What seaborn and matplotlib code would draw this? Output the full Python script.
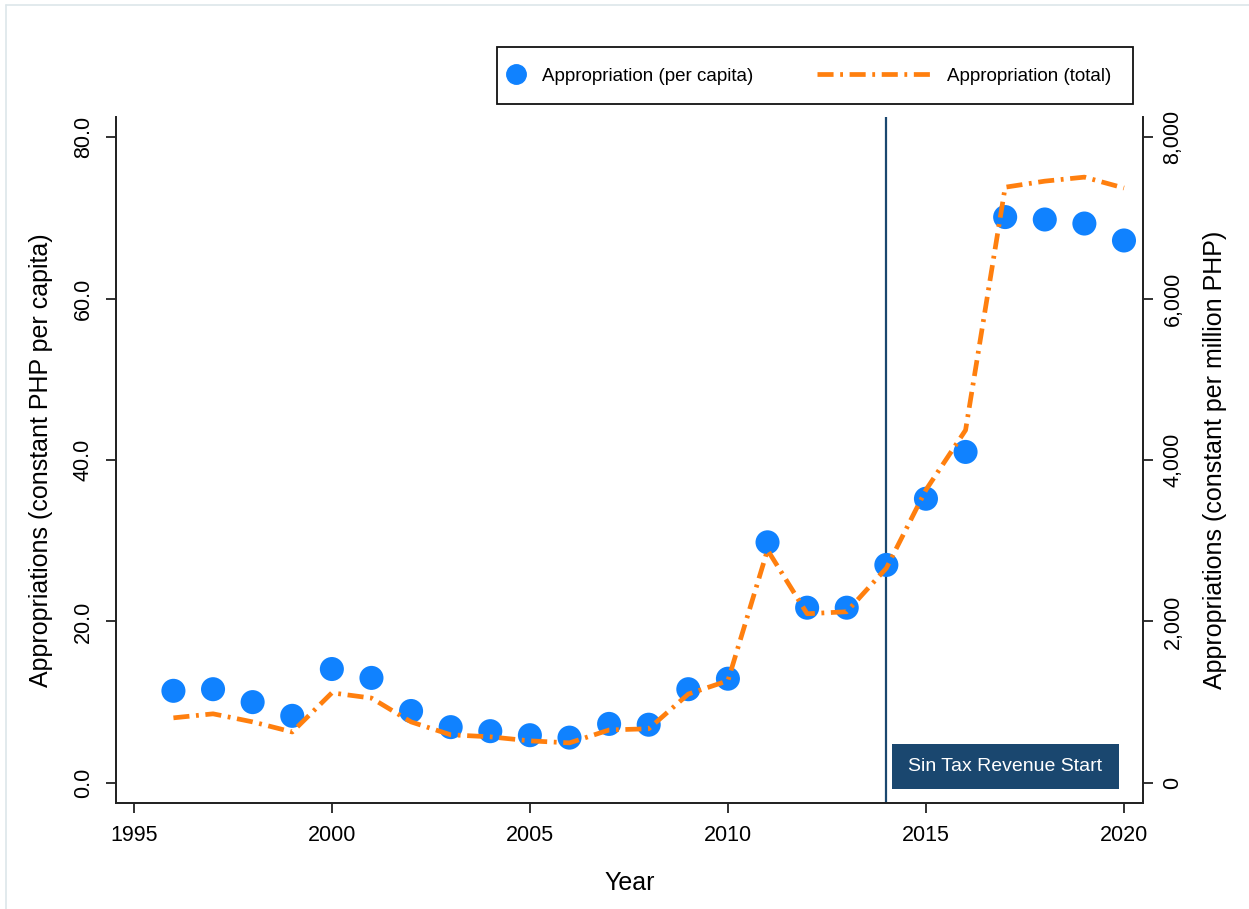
import matplotlib
matplotlib.use("Agg")
import matplotlib.pyplot as plt
import matplotlib.ticker as mticker
from matplotlib.lines import Line2D
from matplotlib.patches import Rectangle
import seaborn as sns
import pandas as pd

# data
years = list(range(1996, 2021))
per_capita = [11.4, 11.6, 10.0, 8.3, 14.1, 13.0, 8.9, 6.9, 6.4, 5.9, 5.6, 7.3, 7.2,
              11.6, 12.9, 29.8, 21.7, 21.7, 27.0, 35.2, 41.0, 70.1, 69.8, 69.3, 67.2]
total = [805, 855, 755, 630, 1115, 1050, 755, 595, 570, 520, 495, 655, 670,
         1100, 1265, 2885, 2095, 2120, 2660, 3630, 4370, 7380, 7455, 7505, 7370]
sin_tax_year = 2014

left_ticks = [0, 20, 40, 60, 80]
right_ticks = [0, 2000, 4000, 6000, 8000]
x_ticks = [1995, 2000, 2005, 2010, 2015, 2020]

df = pd.DataFrame({"year": years, "per_capita": per_capita, "total": total})

blue = "#1082ff"
orange = "#ff7f0e"
navy = "#1a476f"
dash = (0, (3.4, 1.4, 0.6, 1.4))

sns.set_theme(style="white")
plt.rcParams["font.family"] = ["Liberation Sans", "DejaVu Sans"]
plt.rcParams["text.color"] = "black"
plt.rcParams["axes.labelcolor"] = "black"
plt.rcParams["xtick.color"] = "black"
plt.rcParams["ytick.color"] = "black"

fig = plt.figure(figsize=(12.49, 9.09), dpi=100)
ax = fig.add_axes([116 / 1249, 1 - 803 / 909, (1143 - 116) / 1249, (803 - 117) / 909])
ax2 = ax.twinx()

sns.scatterplot(data=df, x="year", y="per_capita", ax=ax, color=blue, s=300,
                edgecolor="none", legend=False, zorder=3)
sns.lineplot(data=df, x="year", y="total", ax=ax2, color=orange, linewidth=3.4,
             linestyle=dash, legend=False)
ax2.lines[0].set_dash_capstyle("butt")

ax.axvline(sin_tax_year, color=navy, linewidth=1.6, zorder=2)
ax.add_patch(Rectangle((2014.15, -0.75), 5.73, 5.55, facecolor=navy, edgecolor="none", zorder=4))
ax.text(2017.0, 2.0, "Sin Tax Revenue Start", color="white", fontsize=14,
        ha="center", va="center", zorder=5)

ax.set_xlim(1994.55, 2020.48)
ax.set_ylim(-2.5, 82.5)
ax2.set_ylim(-250, 8250)
ax.set_xticks(x_ticks)
ax.set_yticks(left_ticks)
ax2.set_yticks(right_ticks)
ax.yaxis.set_major_formatter(mticker.FormatStrFormatter("%.1f"))
ax2.yaxis.set_major_formatter(mticker.StrMethodFormatter("{x:,.0f}"))

for a in (ax, ax2):
    a.spines["top"].set_visible(False)
    for s in ("left", "right", "bottom"):
        a.spines[s].set_color("#222222")
        a.spines[s].set_linewidth(1.3)
    a.tick_params(axis="both", direction="out", length=7, width=1.3, color="#222222",
                  labelsize=15.5, pad=7)
ax.tick_params(axis="y", left=True, labelrotation=90, pad=9)
ax.tick_params(axis="x", bottom=True, pad=9)
ax2.tick_params(axis="y", right=True, labelrotation=90)
for lab in ax.get_yticklabels() + ax2.get_yticklabels():
    lab.set_va("center")

ax.set_xlabel("Year", fontsize=18, labelpad=18)
ax.set_ylabel("Appropriations (constant PHP per capita)", fontsize=18, labelpad=14)
ax2.set_ylabel("Appropriations (constant per million PHP)", fontsize=18, labelpad=14)

# legend: two parts inside one frame
dot_handle = Line2D([], [], marker="o", color=blue, linestyle="none", markersize=14)
line_handle = Line2D([], [], color=orange, linewidth=3.4, linestyle=dash)
line_handle.set_dash_capstyle("butt")
fig.legend(handles=[dot_handle], labels=["Appropriation (per capita)"], loc="center left",
           bbox_to_anchor=(490 / 1249, 1 - 76 / 909), frameon=False, fontsize=13.5,
           handlelength=1.0, handletextpad=0.85)
fig.legend(handles=[line_handle], labels=["Appropriation (total)"], loc="center left",
           bbox_to_anchor=(800 / 1249, 1 - 76 / 909), frameon=False, fontsize=13.5,
           handlelength=6.2, handletextpad=0.75)
fig.patches.append(Rectangle((497 / 1249, 1 - 104 / 909), (1133 - 497) / 1249, 57 / 909,
                             fill=False, edgecolor="#111111", linewidth=1.3,
                             transform=fig.transFigure, figure=fig))

# light outer frame of the graph region
fig.add_artist(Line2D([6 / 1249, 1], [1 - 5 / 909, 1 - 5 / 909], color="#dde6ea",
                      linewidth=1.2, transform=fig.transFigure))
fig.add_artist(Line2D([6 / 1249, 6 / 1249], [0, 1 - 5 / 909], color="#dde6ea",
                      linewidth=1.2, transform=fig.transFigure))

fig.savefig("out.png", dpi=100)
